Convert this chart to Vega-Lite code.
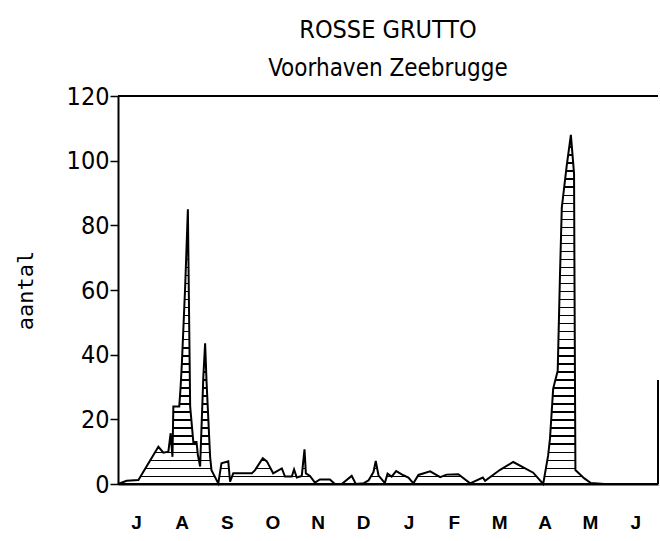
{
  "$schema": "https://vega.github.io/schema/vega-lite/v6.json",
  "width": 540,
  "height": 388,
  "autosize": "none",
  "padding": {"left": 118, "top": 96, "right": 2, "bottom": 57},
  "background": "white",
  "config": {"view": {"stroke": null}},
  "title": {
    "text": "ROSSE GRUTTO",
    "subtitle": "Voorhaven Zeebrugge",
    "font": "'DejaVu Sans Condensed', Roboto, sans-serif",
    "fontSize": 25,
    "fontWeight": "normal",
    "color": "black",
    "subtitleFont": "'DejaVu Sans Condensed', Roboto, sans-serif",
    "subtitleFontSize": 24,
    "subtitleColor": "black",
    "subtitlePadding": 14,
    "offset": 3,
    "anchor": "middle"
  },
  "data": {
    "values": [
      {"maand": 0.10, "aantal": 0},
      {"maand": 0.29, "aantal": 1},
      {"maand": 0.55, "aantal": 1.2},
      {"maand": 0.99, "aantal": 11.5},
      {"maand": 1.10, "aantal": 9.7},
      {"maand": 1.21, "aantal": 10},
      {"maand": 1.26, "aantal": 15.7},
      {"maand": 1.30, "aantal": 8.4},
      {"maand": 1.32, "aantal": 24},
      {"maand": 1.45, "aantal": 24},
      {"maand": 1.48, "aantal": 30},
      {"maand": 1.51, "aantal": 38},
      {"maand": 1.58, "aantal": 61},
      {"maand": 1.64, "aantal": 85},
      {"maand": 1.66, "aantal": 60},
      {"maand": 1.69, "aantal": 24},
      {"maand": 1.76, "aantal": 13},
      {"maand": 1.83, "aantal": 13},
      {"maand": 1.86, "aantal": 9},
      {"maand": 1.91, "aantal": 5.4},
      {"maand": 1.98, "aantal": 33},
      {"maand": 2.02, "aantal": 43.5},
      {"maand": 2.05, "aantal": 32},
      {"maand": 2.13, "aantal": 8.4},
      {"maand": 2.16, "aantal": 4.3},
      {"maand": 2.31, "aantal": 0.2},
      {"maand": 2.38, "aantal": 6.4},
      {"maand": 2.53, "aantal": 7},
      {"maand": 2.57, "aantal": 0.7},
      {"maand": 2.64, "aantal": 3.3},
      {"maand": 2.83, "aantal": 3.3},
      {"maand": 3.05, "aantal": 3.3},
      {"maand": 3.12, "aantal": 4.3},
      {"maand": 3.29, "aantal": 8},
      {"maand": 3.38, "aantal": 7},
      {"maand": 3.52, "aantal": 3.3},
      {"maand": 3.71, "aantal": 4.8},
      {"maand": 3.78, "aantal": 2.3},
      {"maand": 3.93, "aantal": 2.3},
      {"maand": 3.98, "aantal": 4.5},
      {"maand": 4.04, "aantal": 2},
      {"maand": 4.15, "aantal": 2.5},
      {"maand": 4.21, "aantal": 10.7},
      {"maand": 4.24, "aantal": 3.3},
      {"maand": 4.33, "aantal": 2.5},
      {"maand": 4.44, "aantal": 0.4},
      {"maand": 4.55, "aantal": 1.4},
      {"maand": 4.77, "aantal": 1.4},
      {"maand": 4.88, "aantal": 0},
      {"maand": 5.03, "aantal": 0},
      {"maand": 5.25, "aantal": 2.5},
      {"maand": 5.34, "aantal": 0},
      {"maand": 5.51, "aantal": 0.2},
      {"maand": 5.62, "aantal": 1.1},
      {"maand": 5.73, "aantal": 3.7},
      {"maand": 5.78, "aantal": 7.1},
      {"maand": 5.84, "aantal": 2.7},
      {"maand": 5.98, "aantal": 0.3},
      {"maand": 6.04, "aantal": 3.2},
      {"maand": 6.13, "aantal": 2.3},
      {"maand": 6.23, "aantal": 4.0},
      {"maand": 6.39, "aantal": 2.7},
      {"maand": 6.50, "aantal": 2.0},
      {"maand": 6.61, "aantal": 0.2},
      {"maand": 6.72, "aantal": 2.8},
      {"maand": 6.98, "aantal": 3.9},
      {"maand": 7.20, "aantal": 2.1},
      {"maand": 7.34, "aantal": 2.9},
      {"maand": 7.60, "aantal": 3.0},
      {"maand": 7.86, "aantal": 0.2},
      {"maand": 8.14, "aantal": 2.0},
      {"maand": 8.19, "aantal": 1.0},
      {"maand": 8.52, "aantal": 4.4},
      {"maand": 8.81, "aantal": 6.8},
      {"maand": 9.25, "aantal": 3.5},
      {"maand": 9.47, "aantal": 0},
      {"maand": 9.58, "aantal": 8.9},
      {"maand": 9.62, "aantal": 14.1},
      {"maand": 9.69, "aantal": 29.5},
      {"maand": 9.79, "aantal": 35},
      {"maand": 9.84, "aantal": 64.6},
      {"maand": 9.88, "aantal": 85.5},
      {"maand": 9.99, "aantal": 98.6},
      {"maand": 10.08, "aantal": 108},
      {"maand": 10.15, "aantal": 96},
      {"maand": 10.16, "aantal": 63},
      {"maand": 10.17, "aantal": 32},
      {"maand": 10.18, "aantal": 4.3},
      {"maand": 10.37, "aantal": 1.8},
      {"maand": 10.52, "aantal": 0.3},
      {"maand": 10.82, "aantal": 0},
      {"maand": 12.0, "aantal": 0}
    ]
  },
  "layer": [
    {
      "mark": {
        "type": "area",
        "interpolate": "linear",
        "stroke": "black",
        "strokeWidth": 2,
        "fill": {
          "gradient": "linear", "x1": 0, "y1": 0, "x2": 0, "y2": 1,
          "stops": [
            {"offset": 0, "color": "#fff"},
            {"offset": 0.010, "color": "#fff"}, {"offset": 0.010, "color": "#000"}, {"offset": 0.014, "color": "#000"}, {"offset": 0.014, "color": "#fff"},
            {"offset": 0.033, "color": "#fff"}, {"offset": 0.033, "color": "#000"}, {"offset": 0.037, "color": "#000"}, {"offset": 0.037, "color": "#fff"},
            {"offset": 0.056, "color": "#fff"}, {"offset": 0.056, "color": "#000"}, {"offset": 0.060, "color": "#000"}, {"offset": 0.060, "color": "#fff"},
            {"offset": 0.079, "color": "#fff"}, {"offset": 0.079, "color": "#000"}, {"offset": 0.083, "color": "#000"}, {"offset": 0.083, "color": "#fff"},
            {"offset": 0.102, "color": "#fff"}, {"offset": 0.102, "color": "#000"}, {"offset": 0.106, "color": "#000"}, {"offset": 0.106, "color": "#fff"},
            {"offset": 0.125, "color": "#fff"}, {"offset": 0.125, "color": "#000"}, {"offset": 0.129, "color": "#000"}, {"offset": 0.129, "color": "#fff"},
            {"offset": 0.148, "color": "#fff"}, {"offset": 0.148, "color": "#000"}, {"offset": 0.152, "color": "#000"}, {"offset": 0.152, "color": "#fff"},
            {"offset": 0.171, "color": "#fff"}, {"offset": 0.171, "color": "#000"}, {"offset": 0.175, "color": "#000"}, {"offset": 0.175, "color": "#fff"},
            {"offset": 0.194, "color": "#fff"}, {"offset": 0.194, "color": "#000"}, {"offset": 0.198, "color": "#000"}, {"offset": 0.198, "color": "#fff"},
            {"offset": 0.217, "color": "#fff"}, {"offset": 0.217, "color": "#000"}, {"offset": 0.221, "color": "#000"}, {"offset": 0.221, "color": "#fff"},
            {"offset": 0.240, "color": "#fff"}, {"offset": 0.240, "color": "#000"}, {"offset": 0.244, "color": "#000"}, {"offset": 0.244, "color": "#fff"},
            {"offset": 0.263, "color": "#fff"}, {"offset": 0.263, "color": "#000"}, {"offset": 0.267, "color": "#000"}, {"offset": 0.267, "color": "#fff"},
            {"offset": 0.286, "color": "#fff"}, {"offset": 0.286, "color": "#000"}, {"offset": 0.290, "color": "#000"}, {"offset": 0.290, "color": "#fff"},
            {"offset": 0.309, "color": "#fff"}, {"offset": 0.309, "color": "#000"}, {"offset": 0.313, "color": "#000"}, {"offset": 0.313, "color": "#fff"},
            {"offset": 0.332, "color": "#fff"}, {"offset": 0.332, "color": "#000"}, {"offset": 0.336, "color": "#000"}, {"offset": 0.336, "color": "#fff"},
            {"offset": 0.355, "color": "#fff"}, {"offset": 0.355, "color": "#000"}, {"offset": 0.359, "color": "#000"}, {"offset": 0.359, "color": "#fff"},
            {"offset": 0.378, "color": "#fff"}, {"offset": 0.378, "color": "#000"}, {"offset": 0.382, "color": "#000"}, {"offset": 0.382, "color": "#fff"},
            {"offset": 0.401, "color": "#fff"}, {"offset": 0.401, "color": "#000"}, {"offset": 0.405, "color": "#000"}, {"offset": 0.405, "color": "#fff"},
            {"offset": 0.424, "color": "#fff"}, {"offset": 0.424, "color": "#000"}, {"offset": 0.428, "color": "#000"}, {"offset": 0.428, "color": "#fff"},
            {"offset": 0.447, "color": "#fff"}, {"offset": 0.447, "color": "#000"}, {"offset": 0.451, "color": "#000"}, {"offset": 0.451, "color": "#fff"},
            {"offset": 0.470, "color": "#fff"}, {"offset": 0.470, "color": "#000"}, {"offset": 0.474, "color": "#000"}, {"offset": 0.474, "color": "#fff"},
            {"offset": 0.493, "color": "#fff"}, {"offset": 0.493, "color": "#000"}, {"offset": 0.497, "color": "#000"}, {"offset": 0.497, "color": "#fff"},
            {"offset": 0.516, "color": "#fff"}, {"offset": 0.516, "color": "#000"}, {"offset": 0.520, "color": "#000"}, {"offset": 0.520, "color": "#fff"},
            {"offset": 0.539, "color": "#fff"}, {"offset": 0.539, "color": "#000"}, {"offset": 0.543, "color": "#000"}, {"offset": 0.543, "color": "#fff"},
            {"offset": 0.562, "color": "#fff"}, {"offset": 0.562, "color": "#000"}, {"offset": 0.566, "color": "#000"}, {"offset": 0.566, "color": "#fff"},
            {"offset": 0.585, "color": "#fff"}, {"offset": 0.585, "color": "#000"}, {"offset": 0.589, "color": "#000"}, {"offset": 0.589, "color": "#fff"},
            {"offset": 0.608, "color": "#fff"}, {"offset": 0.608, "color": "#000"}, {"offset": 0.612, "color": "#000"}, {"offset": 0.612, "color": "#fff"},
            {"offset": 0.631, "color": "#fff"}, {"offset": 0.631, "color": "#000"}, {"offset": 0.635, "color": "#000"}, {"offset": 0.635, "color": "#fff"},
            {"offset": 0.654, "color": "#fff"}, {"offset": 0.654, "color": "#000"}, {"offset": 0.658, "color": "#000"}, {"offset": 0.658, "color": "#fff"},
            {"offset": 0.677, "color": "#fff"}, {"offset": 0.677, "color": "#000"}, {"offset": 0.681, "color": "#000"}, {"offset": 0.681, "color": "#fff"},
            {"offset": 0.700, "color": "#fff"}, {"offset": 0.700, "color": "#000"}, {"offset": 0.704, "color": "#000"}, {"offset": 0.704, "color": "#fff"},
            {"offset": 0.723, "color": "#fff"}, {"offset": 0.723, "color": "#000"}, {"offset": 0.727, "color": "#000"}, {"offset": 0.727, "color": "#fff"},
            {"offset": 0.746, "color": "#fff"}, {"offset": 0.746, "color": "#000"}, {"offset": 0.750, "color": "#000"}, {"offset": 0.750, "color": "#fff"},
            {"offset": 0.769, "color": "#fff"}, {"offset": 0.769, "color": "#000"}, {"offset": 0.773, "color": "#000"}, {"offset": 0.773, "color": "#fff"},
            {"offset": 0.792, "color": "#fff"}, {"offset": 0.792, "color": "#000"}, {"offset": 0.796, "color": "#000"}, {"offset": 0.796, "color": "#fff"},
            {"offset": 0.815, "color": "#fff"}, {"offset": 0.815, "color": "#000"}, {"offset": 0.819, "color": "#000"}, {"offset": 0.819, "color": "#fff"},
            {"offset": 0.838, "color": "#fff"}, {"offset": 0.838, "color": "#000"}, {"offset": 0.842, "color": "#000"}, {"offset": 0.842, "color": "#fff"},
            {"offset": 0.861, "color": "#fff"}, {"offset": 0.861, "color": "#000"}, {"offset": 0.865, "color": "#000"}, {"offset": 0.865, "color": "#fff"},
            {"offset": 0.884, "color": "#fff"}, {"offset": 0.884, "color": "#000"}, {"offset": 0.888, "color": "#000"}, {"offset": 0.888, "color": "#fff"},
            {"offset": 0.907, "color": "#fff"}, {"offset": 0.907, "color": "#000"}, {"offset": 0.911, "color": "#000"}, {"offset": 0.911, "color": "#fff"},
            {"offset": 0.930, "color": "#fff"}, {"offset": 0.930, "color": "#000"}, {"offset": 0.934, "color": "#000"}, {"offset": 0.934, "color": "#fff"},
            {"offset": 0.953, "color": "#fff"}, {"offset": 0.953, "color": "#000"}, {"offset": 0.957, "color": "#000"}, {"offset": 0.957, "color": "#fff"},
            {"offset": 0.976, "color": "#fff"}, {"offset": 0.976, "color": "#000"}, {"offset": 0.980, "color": "#000"}, {"offset": 0.980, "color": "#fff"},
            {"offset": 1, "color": "#fff"}
          ]
        }
      },
      "encoding": {
        "x": {
          "field": "maand",
          "type": "quantitative",
          "scale": {"domain": [0.1, 12], "nice": false, "zero": false},
          "axis": {
            "title": null,
            "values": [0.5, 1, 1.5, 2, 2.5, 3, 3.5, 4, 4.5, 5, 5.5, 6, 6.5, 7, 7.5, 8, 8.5, 9, 9.5, 10, 10.5, 11, 11.5],
            "labelExpr": "datum.value % 1 === 0.5 ? ['J','A','S','O','N','D','J','F','M','A','M','J'][floor(datum.value)] : ''",
            "tickOpacity": {"condition": {"test": "datum.value % 1 === 0.5", "value": 0}, "value": 1},
            "tickSize": 8,
            "tickWidth": 2,
            "tickColor": "black",
            "labelPadding": 21,
            "labelFont": "Liberation Sans",
            "labelFontSize": 19,
            "labelFontWeight": "bold",
            "labelColor": "black",
            "labelOverlap": false,
            "labelFlush": false,
            "labelBound": false,
            "domainColor": "black",
            "domainWidth": 2,
            "grid": false
          }
        },
        "y": {
          "field": "aantal",
          "type": "quantitative",
          "scale": {"domain": [0, 120], "nice": false},
          "axis": {
            "title": "aantal",
            "titleFont": "DejaVu Sans Mono",
            "titleFontSize": 22,
            "titleFontWeight": "normal",
            "titleColor": "black",
            "titlePadding": 29,
            "values": [0, 10, 20, 30, 40, 50, 60, 70, 80, 90, 100, 110, 120],
            "labelExpr": "datum.value % 20 === 0 ? datum.label : ''",
            "tickSize": {"condition": {"test": "datum.value % 20 === 10", "value": 4}, "value": 8},
            "tickWidth": 1.5,
            "tickColor": "black",
            "labelPadding": 1,
            "labelFont": "'DejaVu Sans Condensed', Roboto, sans-serif",
            "labelFontSize": 25,
            "labelColor": "black",
            "labelOverlap": false,
            "labelFlush": false,
            "domainColor": "black",
            "domainWidth": 2,
            "grid": false
          }
        }
      }
    },
    {
      "mark": {"type": "rule", "stroke": "black", "strokeWidth": 1.5},
      "encoding": {
        "x": {"datum": 0.1, "type": "quantitative"},
        "x2": {"datum": 12},
        "y": {"datum": 120, "type": "quantitative"}
      }
    },
    {
      "mark": {"type": "rule", "stroke": "black", "strokeWidth": 1.5},
      "encoding": {
        "x": {"datum": 12, "type": "quantitative"},
        "y": {"datum": 0, "type": "quantitative"},
        "y2": {"datum": 32}
      }
    }
  ]
}
